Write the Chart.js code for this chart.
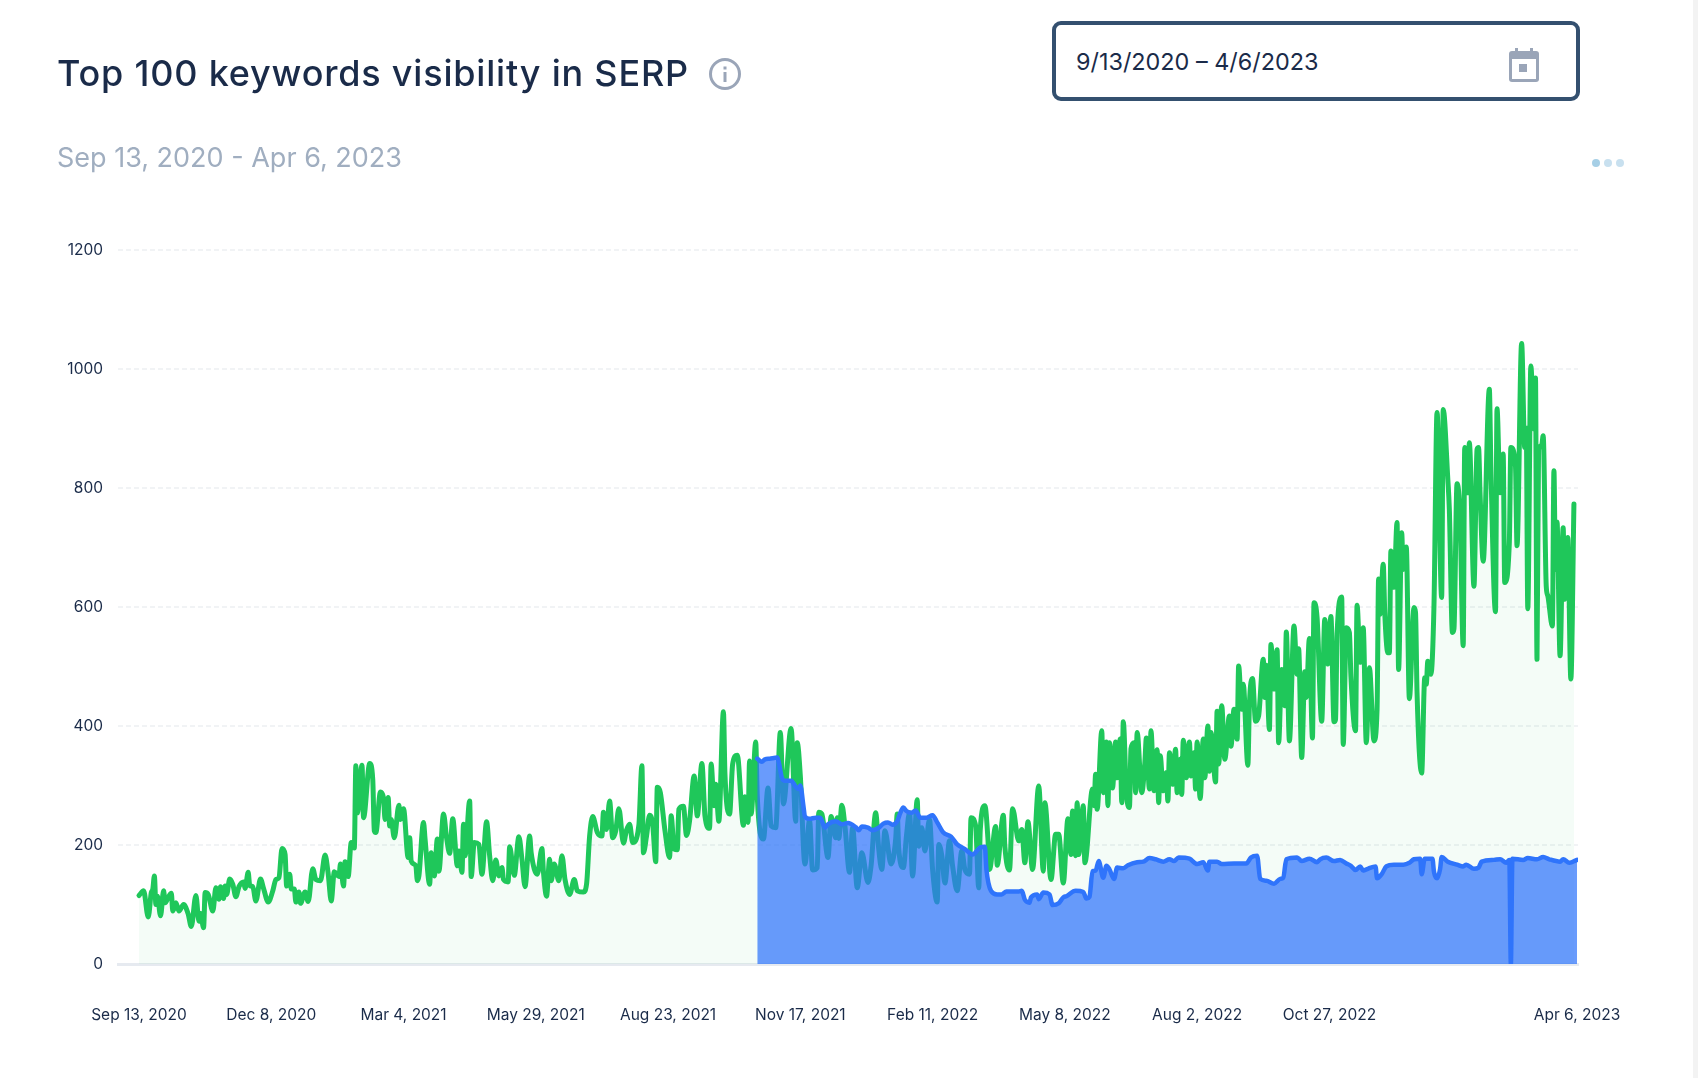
<!DOCTYPE html>
<html>
<head>
<meta charset="utf-8">
<title>Top 100 keywords visibility in SERP</title>
<script src="https://cdn.jsdelivr.net/npm/chart.js@4"></script>
<style>
  html, body { margin: 0; padding: 0; background: #fff; overflow: hidden; }
  body { width: 1698px; height: 1078px; position: relative; font-family: Inter, "Noto Sans", sans-serif; }
  #chart { position: absolute; left: 0; top: 0; }
  .title { position: absolute; left: 57px; top: 50px; font-size: 36px; line-height: 46px; font-weight: 500; letter-spacing: 0.8px; color: #1a2b49; white-space: nowrap; }
  .info { position: absolute; left: 708px; top: 57px; }
  .subtitle { position: absolute; left: 57px; top: 140px; font-size: 27px; line-height: 36px; color: #a0aec0; white-space: nowrap; }
  .range { position: absolute; left: 1052px; top: 21px; width: 520px; height: 72px; border: 4px solid #34506f; border-radius: 9px; background: #fff; }
  .range span { position: absolute; left: 20px; top: 22px; font-size: 23.4px; line-height: 30px; color: #1a2b49; white-space: nowrap; }
  .range svg { position: absolute; left: 453px; top: 23px; }
  .dot { position: absolute; top: 159px; width: 8px; height: 8px; border-radius: 50%; }
  .scrollbar { position: absolute; left: 1693px; top: 0; width: 5px; height: 1078px; background: #f3f3f3; }
</style>
</head>
<body>
<canvas id="chart" width="1698" height="1078"></canvas>
<div class="title">Top 100 keywords visibility in SERP</div>
<svg class="info" width="34" height="34" viewBox="0 0 34 34">
  <circle cx="17" cy="17" r="14.5" fill="none" stroke="#9aa5b8" stroke-width="3"/>
  <rect x="15.5" y="15" width="3" height="10" fill="#9aa5b8"/>
  <rect x="15.5" y="9.5" width="3" height="3" fill="#9aa5b8"/>
</svg>
<div class="subtitle">Sep 13, 2020 - Apr 6, 2023</div>
<div class="range">
  <span>9/13/2020 – 4/6/2023</span>
  <svg width="30" height="34" viewBox="0 0 30 34">
    <rect x="6" y="0" width="3" height="6" fill="#9aa5b8"/>
    <rect x="21" y="0" width="3" height="6" fill="#9aa5b8"/>
    <rect x="0" y="3" width="30" height="31" rx="3" fill="#9aa5b8"/>
    <rect x="3" y="11" width="24" height="20" fill="#fff"/>
    <rect x="10" y="16" width="8" height="8" fill="#9aa5b8"/>
  </svg>
</div>
<div class="dot" style="left:1592px;background:#a6cfe6"></div>
<div class="dot" style="left:1604px;background:#c8e0ef"></div>
<div class="dot" style="left:1616px;background:#c8e0ef"></div>
<div class="scrollbar"></div>

<script>
// x values are days since Sep 13, 2020
const tickDays = [0, 86, 172, 258, 344, 430, 516, 602, 688, 774, 935];
const tickLabels = ["Sep 13, 2020", "Dec 8, 2020", "Mar 4, 2021", "May 29, 2021", "Aug 23, 2021", "Nov 17, 2021",
  "Feb 11, 2022", "May 8, 2022", "Aug 2, 2022", "Oct 27, 2022", "Apr 6, 2023"];

const greenDays = [
  0,3,6,8,9,10,11,12,14,16, 17,19,21,22,24,26,29,32,34,37, 39,40,42,43,45,48,50,52,53,55,
  56,57,59,61,63,65,68,69,71,72, 74,76,79,81,84,87,89,91,93,95, 96,98,99,101,102,104,105,108,110,113,
  115,118,121,123,125,127,130,131,133,134, 136,138,140,141,142,145,146,150,152,153,
  154,157,159,160,162,163,164,166,169,170, 172,175,176,177,180,181,182,185,186,189,
  190,192,194,195,198,200,202,204,207,208, 210,211,212,215,216,218,221,223,226,228,
  230,232,234,236,237,240,241,244,247,249, 251,254,255,259,262,263,265,267,268,270,
  273,275,277,280,283,285,289,291,293,295, 298,301,302,304,306,308,
  310,312,315,317,319,321,325,327,328,330, 332,334,336,337,339,342,345,346,348,350,
  351,354,356,358,361,363,366,368,371,372, 374,375,377,380,381,384,386,389,393,394,
  396,397,398,401,402,406,409,411,414,417, 419,424,427,428,430,433,436,438,441,442,
  444,448,450,453,454,455,457,459,462,464,
  467,470,474,476,479,481,483,485,489,492, 493,494,497,499,501,503,506,507,509,511,
  514,516,519,520,522,524,527,529,532,535, 537,540,541,544,546,547,550,552,553,557,
  558,562,563,566,568,572,574,576,578,581, 585,588,589,593,596,598,601,604,606,607,
  609,610,611,614,615,620,621,
  622,623,626,627,629,630,631,633,635,636, 638,639,640,642,644,645,647,648,649,652,
  654,655,657,658,660,662,663,664,666,668, 669,670,672,674,675,677,678,679,681,683,
  684,686,687,688,690,692,693,695,696,697, 700,701,702,704,706,709,710,712,714,715,
  717,718,721,722,724,726,728,731,732,733, 735,736,738,740,741,743,745,746,748,751,
  753,754,756,758,759,761,763,764,766,769, 771,773,775,777,
  778,779,782,783,785,787,788,791,792,794, 796,798,800,803,805,806,807,809,810,812,
  813,814,816,818,819,821,822,824,826,829, 830,831,834,836,837,838,840,842,844,847,
  848,851,852,854,855,857,859,861,862,864, 865,868,870,871,872,874,878,879,882,883,
  885,887,888,891,892,895,896,899,901,902, 903,905,907,908,909,910,912,913,915,916,
  919,920,921,922,924,926,927,929,931,933
];
const greenValues = [
  115,123,79,120,126,148,100,114,81,123, 103,112,119,89,103,89,100,84,63,115, 72,85,61,120,117,89,128,109,130,110,
  131,117,143,134,113,130,138,127,154,132, 130,106,143,127,104,123,142,145,194,184, 131,151,126,126,104,121,102,121,105,160,
  142,140,183,152,106,155,147,168,131,172, 147,204,195,333,254,334,246,337,310,224,
  221,289,279,243,280,232,243,212,267,243, 261,179,212,173,165,140,148,238,210,134,
  187,148,210,156,252,212,186,244,165,190, 154,235,182,274,147,204,201,151,239,182,
  140,175,148,162,142,138,197,149,214,176, 130,215,187,151,194,154,114,176,140,168,
  140,182,142,117,142,123,121,134,215,248, 221,215,255,226,274,212,
  224,261,203,225,235,204,233,333,187,215, 250,235,172,297,288,224,179,249,193,192,
  260,265,216,241,316,249,337,249,228,336, 266,302,240,424,319,252,336,351,233,281,
  238,341,252,373,282,210,296,232,229,389, 269,396,240,372,316,168,241,158,162,255,
  252,179,248,212,246,211,267,232,154,229,
  128,187,137,165,254,193,159,224,168,210, 252,193,162,215,254,148,276,198,229,190,
  243,159,104,201,182,136,207,165,123,190, 159,151,246,232,128,226,266,210,159,231,
  166,250,198,158,261,207,226,170,239,159, 299,156,271,142,218,218,136,244,184,257,
  182,271,184,266,170,294,266,
  319,260,392,288,373,266,372,296,373,313, 378,271,407,288,263,362,372,288,389,288,
  338,380,294,392,291,360,271,350,291,322, 274,355,302,361,288,344,285,376,313,373,
  316,355,294,373,278,378,313,400,324,389, 306,425,336,434,344,417,366,428,378,501,
  428,470,334,436,480,408,417,512,448,502, 394,537,462,528,372,495,434,558,375,568,
  487,530,347,491,448,547,380,607,582,408, 579,504,584,407,
  411,554,617,369,565,557,484,392,603,507, 565,372,498,375,428,647,588,672,591,523,
  523,694,633,742,495,725,663,701,446,599, 591,456,321,481,470,509,487,602,927,616,
  932,815,764,557,563,807,750,535,868,792, 876,635,865,868,789,677,966,837,592,933,
  792,857,641,708,868,837,703,1043,868,901, 597,1005,899,985,512,865,871,888,635,619,
  568,829,663,743,518,733,613,717,479,773
];

const blueDays = [
  402,405,407,410,415,416,418,420,424,427, 429,430,432,433,436,440,443,446,448,453,
  457,461,466,468,470,474,477,481,484,487, 490,493,495,497,499,502,505,508,512,516,
  519,523,528,532,537,542,547,550,551,554, 558,561,564,572,574,576,579,580,584,585,
  588,592,594,598,601,603,609,614,616,618, 620,622,624,627,629,631,634,636,640,643,
  649,653,657,661,666,670,673,676,683,688, 692,695,696,701,704,712,720,723,727,729,
  733,738,742,744,746,753,756,761,766,768, 772,777,781,785,788,791,794,796,799,804,
  805,808,811,816,822,826,829,833,834,836, 841,842,844,846,847,851,857,861,863,868,
  871,873,881,885,889,891,892,893,900,903, 909,913,917,924,926,930,935
];
const blueValues = [
  345,340,344,345,347,339,313,308,308,298, 294,300,266,248,244,246,246,229,235,240,
  235,237,230,225,231,229,225,229,236,238, 234,240,254,263,257,254,258,246,246,250,
  238,221,214,201,193,184,196,197,159,123, 117,117,122,122,123,108,103,112,117,109,
  120,117,99,102,112,114,123,121,110,113, 156,157,173,145,165,159,143,162,161,166,
  171,172,178,176,172,176,173,179,177,168, 171,157,172,172,168,169,169,179,182,143,
  140,135,143,145,176,179,173,177,171,176, 179,173,175,169,165,158,164,157,160,164,
  144,151,164,167,167,170,176,177,151,177, 177,155,144,160,180,172,167,164,167,160,
  162,172,175,176,170,175,0,177,175,178, 176,180,176,172,176,170,175
];

const toPoints = (days, values) => days.map((d, i) => ({ x: d, y: values[i] }));

const chart = new Chart(document.getElementById("chart").getContext("2d"), {
  type: "line",
  data: {
    datasets: [
      {
        label: "Blue",
        data: toPoints(blueDays, blueValues),
        borderColor: "#2f74fb",
        backgroundColor: "rgba(47,116,251,0.72)",
        borderWidth: 4.5,
        fill: "origin",
        pointRadius: 0,
        cubicInterpolationMode: "monotone",
        borderJoinStyle: "round",
        borderCapStyle: "round",
      },
      {
        label: "Green",
        data: toPoints(greenDays, greenValues),
        borderColor: "#1fc75a",
        backgroundColor: "rgba(34,197,94,0.05)",
        borderWidth: 5,
        fill: "origin",
        pointRadius: 0,
        cubicInterpolationMode: "monotone",
        borderJoinStyle: "round",
        borderCapStyle: "round",
      },
    ],
  },
  options: {
    responsive: false,
    animation: false,
    layout: { padding: { left: 0, right: 120, top: 250, bottom: 0 } },
    plugins: { legend: { display: false }, tooltip: { enabled: false } },
    scales: {
      x: {
        type: "linear",
        min: -13.65,
        max: 935.65,
        afterFit: (scale) => { scale.height = 114; },
        afterBuildTicks: (scale) => { scale.ticks = tickDays.map((d) => ({ value: d })); },
        grid: { display: false, drawTicks: false },
        border: { display: true, color: "#e6eaf0", width: 3 },
        ticks: {
          autoSkip: false,
          maxRotation: 0,
          padding: 42,
          color: "#1a2b49",
          font: { family: "Inter", size: 15.5 },
          callback: (v, i) => tickLabels[i],
        },
      },
      y: {
        min: 0,
        max: 1200,
        afterFit: (scale) => { scale.width = 118; },
        grid: { color: "#f1f3f5", lineWidth: 2, drawTicks: false },
        border: { display: false, dash: [5, 3] },
        ticks: {
          stepSize: 200,
          padding: 15,
          color: "#1a2b49",
          font: { family: "Inter", size: 15.5 },
          callback: (v) => v,
        },
      },
    },
  },
});
</script>
</body>
</html>
